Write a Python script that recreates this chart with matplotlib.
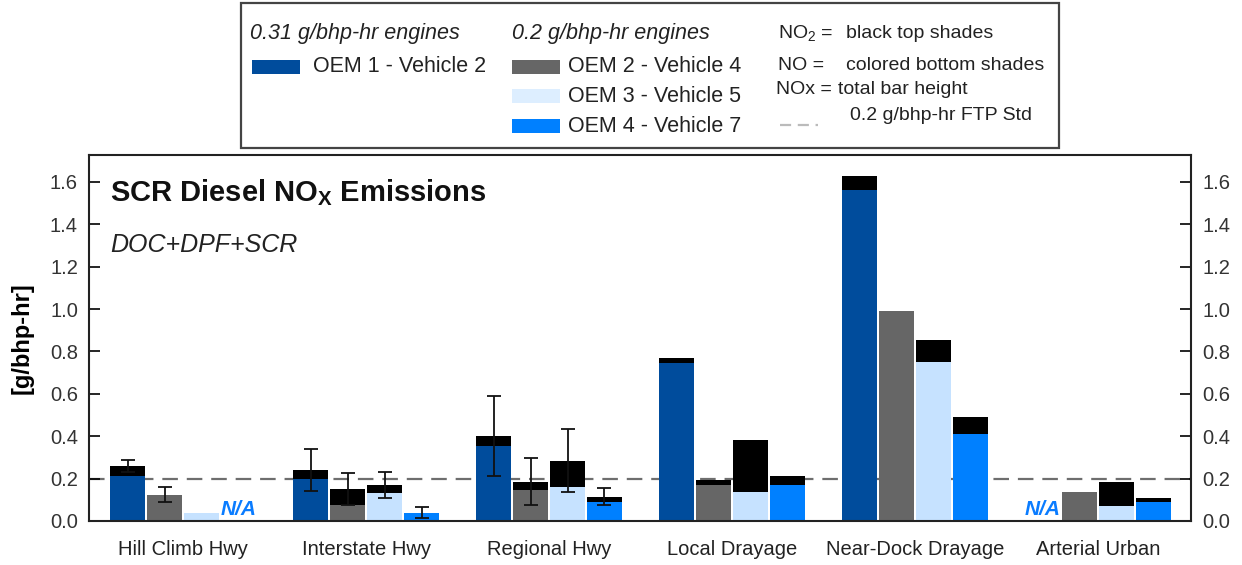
import matplotlib.pyplot as plt
import numpy as np
from matplotlib.patches import Rectangle
from matplotlib.lines import Line2D

plt.rcParams['font.family'] = ['Liberation Sans', 'DejaVu Sans']
plt.rcParams['mathtext.fontset'] = 'custom'
plt.rcParams['mathtext.rm'] = 'Liberation Sans'
plt.rcParams['mathtext.it'] = 'Liberation Sans:italic'
plt.rcParams['mathtext.bf'] = 'Liberation Sans:bold'

nan = np.nan

categories = ['Hill Climb Hwy', 'Interstate Hwy', 'Regional Hwy',
              'Local Drayage', 'Near-Dock Drayage', 'Arterial Urban']
vehicles = ['OEM 1 - Vehicle 2', 'OEM 2 - Vehicle 4',
            'OEM 3 - Vehicle 5', 'OEM 4 - Vehicle 7']
colors = ['#004c9c', '#666666', '#c6e2ff', '#0080ff']

# total bar height = NOx, colored bottom = NO (black top = NO2)
nox_oem1 = [0.26, 0.24, 0.40, 0.77, 1.63, nan]
no_oem1 = [0.21, 0.20, 0.355, 0.745, 1.56, nan]
err_oem1 = [0.03, 0.10, 0.19, 0, 0, 0]

nox_oem2 = [0.125, 0.15, 0.185, 0.195, 0.99, 0.135]
no_oem2 = [0.125, 0.075, 0.145, 0.17, 0.99, 0.135]
err_oem2 = [0.035, 0.075, 0.11, 0, 0, 0]

nox_oem3 = [0.04, 0.17, 0.285, 0.38, 0.855, 0.185]
no_oem3 = [0.04, 0.13, 0.16, 0.135, 0.75, 0.07]
err_oem3 = [0, 0.06, 0.15, 0, 0, 0]

nox_oem4 = [nan, 0.04, 0.115, 0.21, 0.49, 0.11]
no_oem4 = [nan, 0.04, 0.09, 0.17, 0.41, 0.09]
err_oem4 = [0, 0.025, 0.04, 0, 0, 0]

ftp_std = 0.2

nox = [nox_oem1, nox_oem2, nox_oem3, nox_oem4]
no = [no_oem1, no_oem2, no_oem3, no_oem4]
err = [err_oem1, err_oem2, err_oem3, err_oem4]

W, H = 1242, 565
fig = plt.figure(figsize=(W / 100, H / 100), dpi=100)


def px(x, y):
    """ pixel position -> figure fraction """
    return x / W, 1 - y / H


ax = fig.add_axes([89 / W, 1 - 521 / H, (1191 - 89) / W, (521 - 155) / H])

x = np.arange(len(categories))
pitch = 0.202
width = 0.19
for i in range(4):
    xs = x + (i - 1.5) * pitch
    tot = np.array(nox[i], dtype=float)
    bot = np.array(no[i], dtype=float)
    ax.bar(xs, bot, width, color=colors[i], linewidth=0)
    ax.bar(xs, tot - bot, width, bottom=bot, color='black', linewidth=0)
    e = np.array(err[i], dtype=float)
    m = e > 0
    if m.any():
        ax.errorbar(xs[m], tot[m], yerr=e[m], fmt='none', ecolor='#111111',
                    elinewidth=1.3, capsize=5, capthick=1.3)

# N/A markers where a vehicle was not tested
for i in range(4):
    for j in range(len(categories)):
        if np.isnan(nox[i][j]):
            ax.text(x[j] + (i - 1.5) * pitch, 0.01, 'N/A', color='#0a7cff',
                    fontsize=15, fontweight='bold', style='italic',
                    ha='center', va='bottom')

ax.axhline(ftp_std, color='#6e6e6e', lw=1.6, dashes=(7, 4), zorder=0.5)

ax.set_xlim(-0.514, 5.508)
ax.set_ylim(0, 1.727)
ax.set_yticks(np.arange(0, 1.61, 0.2))
ax.set_yticklabels(['%.1f' % v for v in np.arange(0, 1.61, 0.2)])
ax.set_xticks(x)
ax.set_xticklabels(categories, fontsize=14.5, color='#222222')
ax.tick_params(axis='x', length=0, pad=14)
ax.tick_params(axis='y', direction='in', length=8, width=1.2, labelsize=14.5,
               labelcolor='#333333', right=True, labelright=True, pad=8)
for s in ax.spines.values():
    s.set_linewidth(1.5)
    s.set_color('#222222')
ax.set_ylabel('[g/bhp-hr]', fontsize=17, fontweight='bold', labelpad=12)

ax.text(0.019, 0.896, r'SCR Diesel NO$_{\mathbf{X}}$ Emissions', transform=ax.transAxes,
        fontsize=21, fontweight='bold', va='center', ha='left', color='#111111')
ax.text(0.019, 0.754, 'DOC+DPF+SCR', transform=ax.transAxes, fontsize=18,
        style='italic', va='center', ha='left', color='#222222')

# legend box
fig.add_artist(Rectangle(px(241, 148), 818 / W, 145 / H, transform=fig.transFigure,
                         fill=False, edgecolor='#444444', lw=1.6))
lfs = 15.5
fig.text(*px(250, 33), '0.31 g/bhp-hr engines', fontsize=lfs, style='italic',
         va='center', color='#222222')
fig.text(*px(512, 33), '0.2 g/bhp-hr engines', fontsize=lfs, style='italic',
         va='center', color='#222222')
patch_rows = [(252, 67), (512, 67), (512, 96), (512, 126)]
for i, (lx, ly) in enumerate(patch_rows):
    fig.add_artist(Rectangle(px(lx, ly + 7), 48 / W, 14 / H, transform=fig.transFigure,
                             color=colors[i] if i != 2 else '#ddeeff', lw=0))
    fig.text(*px(lx + 61 if i == 0 else lx + 56, ly), vehicles[i], fontsize=lfs,
             va='center', color='#222222')

fig.text(*px(778, 33), r'NO$_\mathrm{2}$ =', fontsize=14, va='center', color='#222222')
fig.text(*px(846, 33), 'black top shades', fontsize=14, va='center', color='#222222')
fig.text(*px(778, 66), 'NO =', fontsize=14, va='center', color='#222222')
fig.text(*px(846, 66), 'colored bottom shades', fontsize=14, va='center', color='#222222')
fig.text(*px(776, 89), 'NOx =', fontsize=14, va='center', color='#222222')
fig.text(*px(838, 89), 'total bar height', fontsize=14, va='center', color='#222222')
x0, y0 = px(780, 125)
x1, _ = px(818, 125)
fig.add_artist(Line2D([x0, x1], [y0, y0], transform=fig.transFigure,
                      color='#bbbbbb', lw=1.6, dashes=(5, 3)))
fig.text(*px(850, 115), '0.2 g/bhp-hr FTP Std', fontsize=14, va='center', color='#222222')

fig.savefig('out.png', dpi=100)
